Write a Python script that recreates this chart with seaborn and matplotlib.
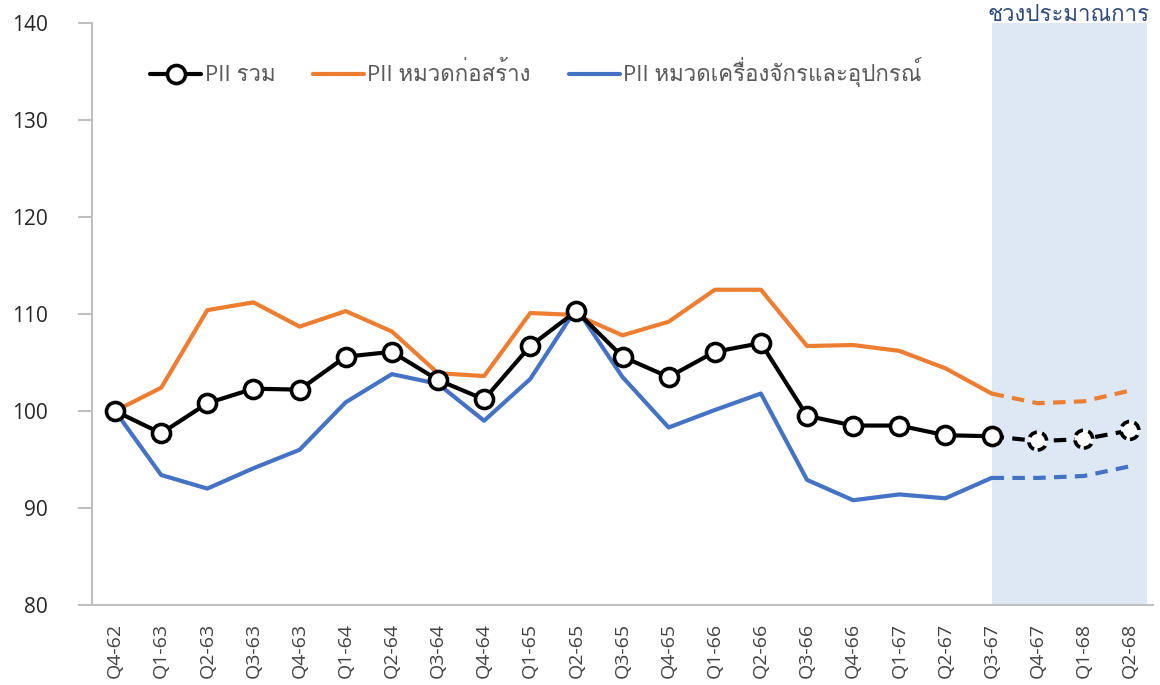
import matplotlib
matplotlib.use("Agg")
import matplotlib.pyplot as plt
import seaborn as sns
import pandas as pd
from matplotlib import font_manager as fm
from matplotlib.ft2font import FT2Font

quarters = ["Q4-62", "Q1-63", "Q2-63", "Q3-63", "Q4-63", "Q1-64", "Q2-64", "Q3-64",
            "Q4-64", "Q1-65", "Q2-65", "Q3-65", "Q4-65", "Q1-66", "Q2-66", "Q3-66",
            "Q4-66", "Q1-67", "Q2-67", "Q3-67", "Q4-67", "Q1-68", "Q2-68"]
pii_total = [100.0, 97.7, 100.8, 102.3, 102.2, 105.6, 106.1, 103.2, 101.2, 106.7,
             110.3, 105.6, 103.5, 106.1, 107.0, 99.5, 98.5, 98.5, 97.5, 97.4,
             96.9, 97.1, 98.0]
pii_construction = [100.0, 102.4, 110.4, 111.2, 108.7, 110.3, 108.2, 103.9, 103.6, 110.1,
                    109.9, 107.8, 109.2, 112.5, 112.5, 106.7, 106.8, 106.2, 104.4, 101.8,
                    100.8, 101.0, 102.1]
pii_machinery = [100.0, 93.4, 92.0, 94.1, 96.0, 100.9, 103.8, 102.8, 99.0, 103.3,
                 110.6, 103.5, 98.3, 100.1, 101.8, 92.9, 90.8, 91.4, 91.0, 93.1,
                 93.1, 93.3, 94.3]
series_names = ["PII รวม", "PII หมวดก่อสร้าง", "PII หมวดเครื่องจักรและอุปกรณ์"]
forecast_label = "ช่วงประมาณการ"
forecast_start = "Q3-67"
yticks = [80, 90, 100, 110, 120, 130, 140]

# find a font with Thai glyphs
thai_family = None
for f in fm.fontManager.ttflist:
    try:
        cmap = FT2Font(f.fname).get_charmap()
        if 0x0E23 in cmap and 0x0E21 in cmap and 0x0E13 in cmap:
            thai_family = f.name
            if f.weight in ("normal", 400, "regular"):
                break
    except Exception:
        pass

sns.set_theme(style="white")
fams = ["Open Sans"] + ([thai_family] if thai_family else []) + ["DejaVu Sans"]
plt.rcParams["font.family"] = fams

x = list(range(len(quarters)))
fi = quarters.index(forecast_start)
df = pd.DataFrame({"x": x, "total": pii_total, "cons": pii_construction, "mach": pii_machinery})
hist = df[df.x <= fi]
fc = df[df.x >= fi]

fig = plt.figure(figsize=(11.6, 6.85), dpi=100)
ax = fig.add_axes([92 / 1160, 80 / 685, 1061 / 1160, 582 / 685])

ax.axvspan(fi, 22.37, color="#DEE8F4", zorder=0, lw=0)

orange = "#ED7D31"
blue = "#4472C4"
lw = 3.0

sns.lineplot(data=hist, x="x", y="cons", ax=ax, color=orange, lw=lw, label=series_names[1], zorder=2)
sns.lineplot(data=fc, x="x", y="cons", ax=ax, color=orange, lw=lw, ls=(0, (3, 2)), zorder=2)
sns.lineplot(data=hist, x="x", y="mach", ax=ax, color=blue, lw=lw, label=series_names[2], zorder=2)
sns.lineplot(data=fc, x="x", y="mach", ax=ax, color=blue, lw=lw, ls=(0, (3, 2)), zorder=2)
sns.lineplot(data=fc, x="x", y="total", ax=ax, color="black", lw=lw, ls=(0, (3, 2)), zorder=3)
sns.lineplot(data=hist, x="x", y="total", ax=ax, color="black", lw=lw, marker="o",
             markersize=13, markerfacecolor="white", markeredgecolor="black",
             markeredgewidth=2.6, label=series_names[0], zorder=4)
ax.scatter(fc.x[1:], fc.total[1:], s=165, facecolors="white", edgecolors="black",
           linewidths=2.6, linestyles=(0, (2.5, 1.5)), zorder=5)

ax.set_xlim(-0.5, 22.5)
ax.set_ylim(80, 140)
ax.set_yticks(yticks)
ax.set_yticklabels([str(v) for v in yticks], fontsize=15, color="#262626")
ax.set_xticks(x)
ax.set_xticklabels(quarters, rotation=90, fontsize=14, color="#404040")
ax.set_xlabel("")
ax.set_ylabel("")
for s in ["top", "right"]:
    ax.spines[s].set_visible(False)
ax.spines["left"].set_color("#BFBFBF")
ax.spines["bottom"].set_color("#BFBFBF")
ax.spines["left"].set_linewidth(1.5)
ax.spines["bottom"].set_linewidth(1.5)
ax.tick_params(axis="y", which="major", left=True, length=10, width=1.5, color="#BFBFBF", pad=22)
ax.tick_params(axis="x", bottom=False, pad=7)

h, l = ax.get_legend_handles_labels()
order = [l.index(n) for n in series_names]
leg = ax.legend([h[i] for i in order], [l[i] for i in order], loc="center left",
                bbox_to_anchor=(0.036, 0.915), ncol=3, frameon=False, fontsize=16,
                handlelength=2.3, columnspacing=1.7, handletextpad=0.15)
for t in leg.get_texts():
    t.set_color("#595959")

fig.text((991 + 1147) / 2 / 1160, 0.997, forecast_label, ha="center", va="top",
         fontsize=16, color="#2F4B7C")

fig.savefig("out.png", dpi=100)
